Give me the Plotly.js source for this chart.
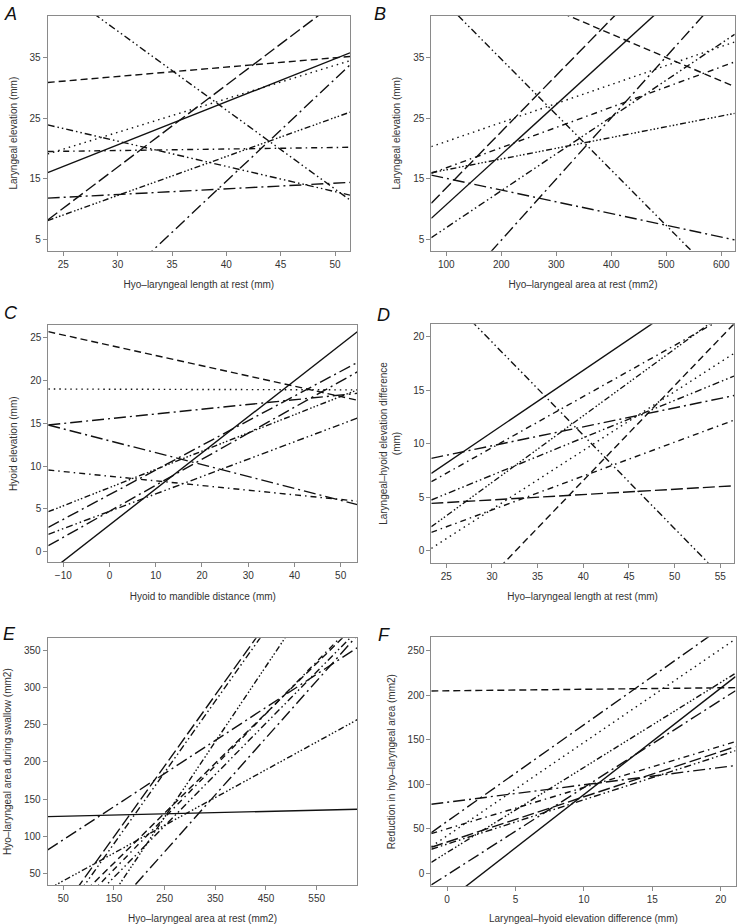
<!DOCTYPE html>
<html><head><meta charset="utf-8">
<script src="https://cdn.plot.ly/plotly-3.0.1.min.js"></script>
<style>body{margin:0;background:#fff}#chart{width:738px;height:924px}</style>
</head><body><div id="chart"></div>
<script>
// ---------- DATA (values of each fitted line at the left and right ends of the x range) ----------
// Panel A: Laryngeal elevation vs hyo-laryngeal length at rest
const A_x = [23.56, 51.38];
const A_left  = [16.0, 30.9, 19.1, -13.15, 8.2, 47.8, 23.9, 19.5, 8.1, 11.8];
const A_right = [35.8, 35.2, 34.5, 33.8, 45.9, 11.5, 12.3, 20.2, 26.0, 14.4];
// Panel B: Laryngeal elevation vs hyo-laryngeal area at rest
const B_x = [72.7, 624.4];
const B_left  = [8.47, 10.95, 46.4, 51.6, -8.0, 20.3, 5.28, 15.9, 16.0, 15.6];
const B_right = [54.1, 62.2, -4.1, 30.2, 47.75, 37.6, 38.85, 34.3, 25.8, 4.9];
// Panel C: Hyoid elevation vs hyoid to mandible distance
const C_x = [-13.25, 53.6];
const C_left  = [-2.46, 25.7, 19.0, 14.8, 14.8, 9.54, 4.67, 2.85, 2.03, 0.7];
const C_right = [25.7, 17.7, 18.9, 18.5, 5.5, 5.9, 18.9, 22.1, 15.6, 21.0];
// Panel D: Laryngeal-hyoid elevation difference vs hyo-laryngeal length at rest
const D_x = [23.36, 56.5];
const D_left  = [7.23, 25.3, -8.2, 0.22, 6.45, 2.24, 4.74, 8.63, 1.71, 4.42];
const D_right = [26.4, -3.6, 21.2, 18.44, 22.3, 22.9, 16.32, 14.5, 12.2, 6.07];
// Panel E: Hyo-laryngeal area during swallow vs at rest
const E_x = [19.2, 630.2];
const E_left  = [126.4, 81.5, 28.3, -25.8, -35.8, -109, -24.2, -46, -98, -36.4];
const E_right = [136.3, 354, 257, 558, 551.4, 512.3, 387, 377.1, 370.7, 391.3];
// Panel F: Reduction in hyo-laryngeal area vs laryngeal-hyoid elevation difference
const F_x = [-1.15, 21.08];
const F_left  = [204.7, 45.7, 30, -44.9, 12.3, -13.1, 44.5, 77.5, 29.2, 27];
const F_right = [208.5, 287, 263, 220.8, 224.6, 205, 147.8, 121, 142.2, 137.7];

// axis ticks
const A_xticks = [25, 30, 35, 40, 45, 50], A_yticks = [5, 15, 25, 35];
const B_xticks = [100, 200, 300, 400, 500, 600], B_yticks = [5, 15, 25, 35];
const C_xticks = [-10, 0, 10, 20, 30, 40, 50], C_yticks = [0, 5, 10, 15, 20, 25];
const D_xticks = [25, 30, 35, 40, 45, 50, 55], D_yticks = [0, 5, 10, 15, 20];
const E_xticks = [50, 150, 250, 350, 450, 550], E_yticks = [50, 100, 150, 200, 250, 300, 350];
const F_xticks = [0, 5, 10, 15, 20], F_yticks = [0, 50, 100, 150, 200, 250];

// ---------- STYLES ----------
const DASH = {
  solid: 'solid',
  dashed: '7px,4px',
  dotted: '1.5px,4px',
  dashdot: '6px,4px,1.5px,4px',
  longdash: '12px,4px',
  longdashdot: '12px,4px,2px,4px',
  dashdotdot: '7px,3px,1.5px,3px,1.5px,3px',
  dashdot3: '6px,2.5px,1.5px,2px,1.5px,2px,1.5px,2.5px'
};
const A_sty = ['solid','dashed','dotted','longdashdot','longdash','dashdotdot','dashdotdot','dashdot','dashdot3','longdashdot'];
const B_sty = ['solid','longdash','dashdotdot','dashed','longdashdot','dotted','dashdotdot','dashdot','dashdot3','longdashdot'];
const C_sty = ['solid','dashed','dotted','longdashdot','longdashdot','dashdot','dashdot3','longdashdot','dashdotdot','longdashdot'];
const D_sty = ['solid','dashdotdot','dashed','dotted','dashdot','dashdot3','dashdotdot','longdashdot','dashdot','longdash'];
const E_sty = ['solid','longdashdot','dashdot3','longdash','dashdotdot','dashdot3','dashed','dashdotdot','longdashdot','dashdot'];
const F_sty = ['dashed','longdashdot','dotted','solid','dashdot3','longdashdot','dashdot','longdashdot','longdash','dashdotdot'];

const W = 738, H = 924;
const boxes = { // plot areas in px: [x0, x1, y0(top), y1(bottom)]
  A: [47.7, 350, 15.7, 250.7],
  B: [431.3, 734.7, 15.7, 250.7],
  C: [48.3, 357.3, 325, 562.3],
  D: [431.3, 734, 324.3, 562.7],
  E: [47.7, 357.3, 638.3, 885],
  F: [431.3, 735.5, 637.3, 886]
};
const yRanges = { A: [3.12, 41.93], B: [3.12, 41.93], C: [-1.24, 26.48], D: [-1.12, 21.16], E: [34.2, 366.7], F: [-14.3, 265] };
const panels = [
  {k:'A', x:A_x, l:A_left, r:A_right, s:A_sty, xt:A_xticks, yt:A_yticks,
   xtitle:'Hyo–laryngeal length at rest (mm)', ytitle:'Laryngeal elevation (mm)'},
  {k:'B', x:B_x, l:B_left, r:B_right, s:B_sty, xt:B_xticks, yt:B_yticks,
   xtitle:'Hyo–laryngeal area at rest (mm2)', ytitle:'Laryngeal elevation (mm)'},
  {k:'C', x:C_x, l:C_left, r:C_right, s:C_sty, xt:C_xticks, yt:C_yticks,
   xtitle:'Hyoid to mandible distance (mm)', ytitle:'Hyoid elevation (mm)'},
  {k:'D', x:D_x, l:D_left, r:D_right, s:D_sty, xt:D_xticks, yt:D_yticks,
   xtitle:'Hyo–laryngeal length at rest (mm)', ytitle:'Laryngeal–hyoid elevation difference<br>(mm)'},
  {k:'E', x:E_x, l:E_left, r:E_right, s:E_sty, xt:E_xticks, yt:E_yticks,
   xtitle:'Hyo–laryngeal area at rest (mm2)', ytitle:'Hyo–laryngeal area during swallow (mm2)'},
  {k:'F', x:F_x, l:F_left, r:F_right, s:F_sty, xt:F_xticks, yt:F_yticks,
   xtitle:'Laryngeal–hyoid elevation difference (mm)', ytitle:'Reduction in hyo–laryngeal area (mm2)'}
];
const letterPos = { A:[2,2], B:[372,2], C:[2,301], D:[375,303], E:[1,622], F:[376,623] };

const FONT = 'Liberation Sans, Arial, Helvetica, sans-serif';
const traces = [];
const layout = {
  width: W, height: H, margin: {l:0, r:0, t:0, b:0},
  paper_bgcolor: '#fff', plot_bgcolor: '#fff', showlegend: false,
  font: {family: FONT, size: 10, color: '#333'},
  annotations: []
};
panels.forEach((p, i) => {
  const n = i + 1, sfx = n === 1 ? '' : String(n);
  const b = boxes[p.k];
  for (let j = 0; j < p.l.length; j++) {
    traces.push({
      type: 'scatter', mode: 'lines', x: p.x, y: [p.l[j], p.r[j]],
      xaxis: 'x' + sfx, yaxis: 'y' + sfx, hoverinfo: 'skip',
      line: {color: '#111', width: 1.4, dash: DASH[p.s[j]]}
    });
  }
  const axCommon = {
    showgrid: false, zeroline: false, showline: true, mirror: true,
    linecolor: '#8a8a8a', linewidth: 1, ticks: 'outside', ticklen: 4,
    tickcolor: '#8a8a8a', tickfont: {size: 10, color: '#333'}, fixedrange: true
  };
  layout['xaxis' + sfx] = Object.assign({}, axCommon, {
    domain: [b[0] / W, b[1] / W], range: [p.x[0], p.x[1]], anchor: 'y' + sfx,
    tickvals: p.xt, title: {text: p.xtitle, font: {size: 10, color: '#333'}, standoff: 12}
  });
  layout['yaxis' + sfx] = Object.assign({}, axCommon, {
    domain: [1 - b[3] / H, 1 - b[2] / H], range: yRanges[p.k], anchor: 'x' + sfx,
    tickvals: p.yt, title: {text: p.ytitle, font: {size: 10, color: '#333'}, standoff: 10}
  });
  const lp = letterPos[p.k];
  layout.annotations.push({
    xref: 'paper', yref: 'paper', x: lp[0] / W, y: 1 - lp[1] / H,
    xanchor: 'left', yanchor: 'top', showarrow: false,
    text: '<i>' + p.k + '</i>', font: {size: 18, color: '#111', family: FONT}
  });
});
Plotly.newPlot('chart', traces, layout, {staticPlot: true});
</script></body></html>
